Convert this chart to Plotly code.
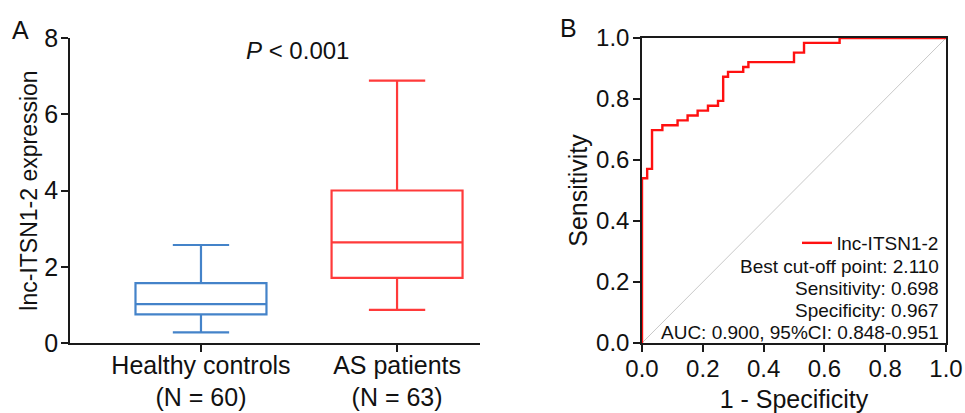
import plotly.graph_objects as go

# ---- Panel A data (box plot summary) ----
groups = ["Healthy controls<br>(N = 60)", "AS patients<br>(N = 63)"]
lower_fence = [0.28, 0.87]
q1_vals = [0.75, 1.71]
medians = [1.02, 2.64]
q3_vals = [1.57, 4.00]
upper_fence = [2.57, 6.88]
box_colors = ["#4483c9", "#ff3a3a"]

# ---- Panel B data (ROC curve) ----
roc_fpr = [0.000, 0.000, 0.017, 0.033, 0.067, 0.117, 0.150, 0.183, 0.217, 0.250,
           0.267, 0.283, 0.333, 0.350, 0.500, 0.533, 0.650, 1.000]
roc_tpr = [0.000, 0.540, 0.571, 0.698, 0.714, 0.730, 0.746, 0.762, 0.778, 0.794,
           0.873, 0.889, 0.905, 0.921, 0.952, 0.984, 1.000, 1.000]
ref_line = [0.0, 1.0]
roc_name = "lnc-ITSN1-2"
stats_lines = ["Best cut-off point: 2.110", "Sensitivity: 0.698",
               "Specificity: 0.967", "AUC: 0.900, 95%CI: 0.848-0.951"]

W, H = 965, 413
FONT = "Arial, Liberation Sans, Helvetica, sans-serif"
AX = "#1a1a1a"
TXT = "#111111"

fig = go.Figure()

for i in range(2):
    fig.add_trace(go.Box(
        x=[i], q1=[q1_vals[i]], median=[medians[i]], q3=[q3_vals[i]],
        lowerfence=[lower_fence[i]], upperfence=[upper_fence[i]],
        width=0.668, whiskerwidth=0.43,
        line=dict(color=box_colors[i], width=2.2),
        fillcolor="rgba(255,255,255,0)", boxpoints=False,
        xaxis="x", yaxis="y", showlegend=False, hoverinfo="skip"))

fig.add_trace(go.Scatter(
    x=ref_line, y=ref_line, mode="lines",
    line=dict(color="#c8c8c8", width=1), xaxis="x2", yaxis="y2",
    showlegend=False, hoverinfo="skip"))

fig.add_trace(go.Scatter(
    x=roc_fpr, y=roc_tpr, mode="lines", line_shape="hv", name=roc_name,
    line=dict(color="#ff1010", width=2.4), xaxis="x2", yaxis="y2",
    showlegend=True, cliponaxis=False))

def px_x(p):
    return p / W

def px_y(p):
    return 1 - p / H

ydom = [px_y(343), px_y(38)]

def axis_common(size):
    return dict(showgrid=False, zeroline=False, showline=True, linecolor=AX,
                linewidth=1.5, ticks="outside", ticklen=7, tickwidth=1.5,
                tickcolor=AX, tickfont=dict(size=size, color=TXT, family=FONT),
                automargin=False)

fig.update_layout(
    width=W, height=H, margin=dict(l=0, r=0, t=0, b=0),
    paper_bgcolor="white", plot_bgcolor="white",
    font=dict(family=FONT, color=TXT),
    xaxis=dict(domain=[px_x(70), px_x(480)], range=[-0.668, 1.423],
               tickmode="array", tickvals=[0, 1], ticktext=groups,
               ticklabelstandoff=-8,
               anchor="y", **axis_common(25)),
    yaxis=dict(domain=ydom, range=[0, 8], tickmode="array",
               tickvals=[0, 2, 4, 6, 8], anchor="x", ticklabelstandoff=-2,
               title=dict(text="lnc-ITSN1-2 expression", standoff=0,
                          font=dict(size=23, family=FONT, color=TXT)),
               **axis_common(25)),
    xaxis2=dict(domain=[px_x(642), px_x(946)], range=[0, 1], tickmode="array",
                tickvals=[0, 0.2, 0.4, 0.6, 0.8, 1.0], tickformat=".1f",
                mirror=True, anchor="y2", ticklabelstandoff=-4,
                title=dict(text="1 - Specificity", standoff=16,
                           font=dict(size=25, family=FONT, color=TXT)),
                **axis_common(24)),
    yaxis2=dict(domain=ydom, range=[0, 1], tickmode="array",
                tickvals=[0, 0.2, 0.4, 0.6, 0.8, 1.0], tickformat=".1f",
                mirror=True, anchor="x2", ticklabelstandoff=-1,
                title=dict(text="Sensitivity", standoff=1,
                           font=dict(size=25, family=FONT, color=TXT)),
                **axis_common(24)),
    legend=dict(x=px_x(944), y=px_y(243), xanchor="right", yanchor="middle",
                bgcolor="rgba(0,0,0,0)", font=dict(size=19, family=FONT, color=TXT),
                itemwidth=30, tracegroupgap=0),
)

annotations = [
    dict(text="A", x=px_x(20), y=px_y(30), xref="paper", yref="paper",
         xanchor="center", yanchor="middle",
         showarrow=False, font=dict(size=25, family=FONT, color=TXT)),
    dict(text="B", x=px_x(568), y=px_y(28), xref="paper", yref="paper",
         xanchor="center", yanchor="middle",
         showarrow=False, font=dict(size=25, family=FONT, color=TXT)),
    dict(text="<i>P</i> &lt; 0.001", x=px_x(297), y=px_y(50), xref="paper",
         yref="paper", xanchor="center", yanchor="middle", showarrow=False,
         font=dict(size=24, family=FONT, color=TXT)),
]
for k, line in enumerate(stats_lines):
    annotations.append(dict(
        text=line, x=px_x(941), y=px_y(266 + 22 * k), xref="paper", yref="paper",
        xanchor="right", yanchor="middle", showarrow=False,
        font=dict(size=19, family=FONT, color=TXT)))
fig.update_layout(annotations=annotations)

fig.write_html("out.html", config={"displayModeBar": False},
               post_script="document.body.style.margin='0px';document.body.style.overflow='hidden';")
